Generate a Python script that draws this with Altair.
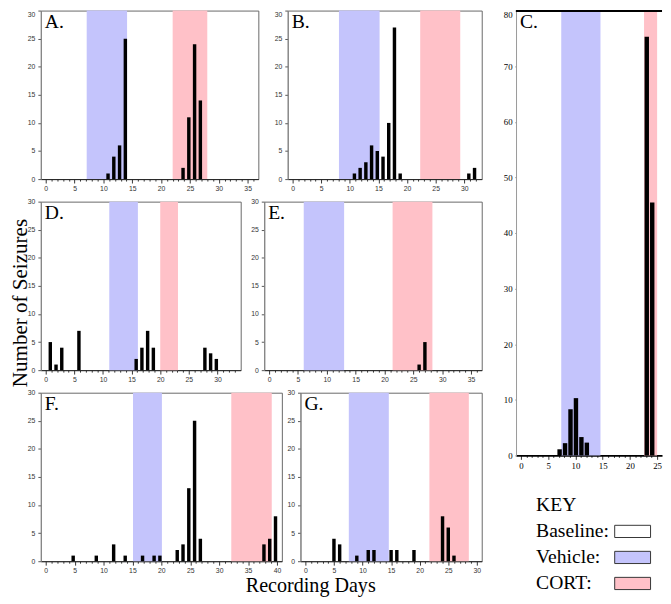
import altair as alt
import pandas as pd

SERIF = "Liberation Serif"
SANS = "Liberation Sans"
VEH_COLOR = "#c4c4fc"
CORT_COLOR = "#ffc1c8"

# ---- data ----
A_days = [11, 12, 13, 14, 24, 25, 26, 27]
A_counts = [1, 4, 6, 25, 2, 11, 24, 14]
A_vehicle = [7.1, 14.1]
A_cort = [22.0, 28.0]

B_days = [11, 12, 13, 14, 15, 16, 17, 18, 19, 31, 32]
B_counts = [1, 2, 3, 6, 5, 4, 10, 27, 1, 1, 2]
B_vehicle = [8.1, 15.2]
B_cort = [22.3, 29.3]

C_days = [7, 8, 9, 10, 11, 12, 23, 24]
C_counts = [1.1, 2.2, 8.3, 10.3, 3.3, 2.3, 75.3, 45.5]
C_vehicle = [7.4, 14.6]
C_cort = [22.6, 25.0]

D_days = [1, 2, 3, 6, 16, 17, 18, 19, 28, 29, 30]
D_counts = [5, 1, 4, 7, 2, 4, 7, 4, 4, 3, 2]
D_vehicle = [11.1, 16.1]
D_cort = [20.0, 23.1]

E_days = [26, 27]
E_counts = [1, 5]
E_vehicle = [6.0, 13.0]
E_cort = [21.4, 28.3]

F_days = [5, 9, 12, 14, 17, 19, 20, 23, 24, 25, 26, 27, 38, 39, 40]
F_counts = [1, 1, 3, 1, 1, 1, 1, 2, 3, 13, 25, 4, 3, 4, 8]
F_vehicle = [15.1, 20.1]
F_cort = [32.1, 39.1]

G_days = [5, 6, 9, 11, 12, 15, 16, 19, 24, 25, 26]
G_counts = [4, 3, 1, 2, 2, 2, 2, 2, 8, 6, 1]
G_vehicle = [7.6, 14.6]
G_cort = [21.7, 28.6]

KEY_LABELS = ["KEY", "Baseline:", "Vehicle:", "CORT:"]
KEY_FILLS = ["#ffffff", VEH_COLOR, CORT_COLOR]

Y_TITLE = "Number of Seizures"
X_TITLE = "Recording Days"


def panel(letter, days, counts, vehicle, cort, xmax, height=172,
          ymax=30, ystep=5, shift=0.0, barsize=3.5, serif_axes=False,
          xtitle=None, top_label_offset=0):
    bars_df = pd.DataFrame({"day": days, "count": counts})
    bands_df = pd.DataFrame({
        "phase": ["Vehicle", "CORT"],
        "start": [vehicle[0], cort[0]],
        "end": [vehicle[1], cort[1]],
    })
    xscale = alt.Scale(domain=[0, xmax], nice=False, zero=False)
    yscale = alt.Scale(domain=[0, ymax], nice=False)

    lab_font = SERIF if serif_axes else SANS
    lab_size = 9 if serif_axes else 7
    lab_color = "#000" if serif_axes else "#333"

    xaxis_kw = dict(
        values=list(range(0, int(xmax) + 1)),
        labelExpr="datum.value % 5 === 0 ? datum.label : ''",
        tickSize={"condition": {"test": "datum.value % 5 === 0", "value": 4}, "value": 2},
        grid=False, labelFont=lab_font, labelFontSize=lab_size, labelColor=lab_color,
        tickColor="#333", labelPadding=2, labelOverlap=False, labelFlush=False,
        domainColor="#000" if serif_axes else "#222",
        domainWidth=2 if serif_axes else 1,
        title=xtitle,
    )
    if xtitle:
        xaxis_kw.update(titleFont=SERIF, titleFontSize=20.5, titleFontWeight="normal",
                        titleColor="#000", titleX=10, titleY=31, titleAlign="center",
                        titleBaseline="alphabetic")
    xaxis = alt.Axis(**xaxis_kw)

    yaxis_kw = dict(
        values=list(range(0, ymax + 1, ystep)),
        tickSize=1 if serif_axes else 3,
        grid=False, labelFont=lab_font, labelFontSize=lab_size, labelColor=lab_color,
        domainColor="#999" if serif_axes else "#888", tickColor="#555",
        labelPadding=3, title=None,
    )
    if top_label_offset:
        yaxis_kw["labelOffset"] = {"condition": {"test": f"datum.value === {ymax}",
                                                 "value": top_label_offset}, "value": 0}
    yaxis = alt.Axis(**yaxis_kw)

    bands = alt.Chart(bands_df).mark_rect().encode(
        x=alt.X("start:Q", scale=xscale, axis=xaxis),
        x2="end:Q",
        y=alt.value(0),
        y2=alt.value(height),
        color=alt.Color("phase:N", scale=alt.Scale(domain=["Vehicle", "CORT"],
                                                     range=[VEH_COLOR, CORT_COLOR]), legend=None),
    )
    bars = alt.Chart(bars_df).transform_calculate(
        xpos=f"datum.day + ({shift})"
    ).mark_bar(size=barsize, color="#000").encode(
        x=alt.X("xpos:Q", scale=xscale, axis=xaxis),
        y=alt.Y("count:Q", scale=yscale, axis=yaxis),
    )
    label = alt.Chart(pd.DataFrame({"t": [letter]})).mark_text(
        font=SERIF, fontSize=20, align="left", baseline="alphabetic", color="#000"
    ).encode(x=alt.value(4), y=alt.value(17.5), text="t:N")
    return [bands, bars, label]


def make(layers, width, height=172, view=None):
    ch = alt.layer(*layers).properties(width=width, height=height)
    if view is not None:
        ch = ch.properties(view=view)
    return ch


A = make(panel("A.", A_days, A_counts, A_vehicle, A_cort, 36, shift=-0.2, top_label_offset=4), 222)
B = make(panel("B.", B_days, B_counts, B_vehicle, B_cort, 32.2, shift=-0.2, top_label_offset=4), 198)
D = make(panel("D.", D_days, D_counts, D_vehicle, D_cort, 33.2, shift=-0.2), 204)
E = make(panel("E.", E_days, E_counts, E_vehicle, E_cort, 36), 222)
F = make(panel("F.", F_days, F_counts, F_vehicle, F_cort, 40, shift=-0.25), 246)
G = make(panel("G.", G_days, G_counts, G_vehicle, G_cort, 30, xtitle=X_TITLE), 185)

C_layers = panel("C.", C_days, C_counts, C_vehicle, C_cort, 25, height=454,
                 ymax=80, ystep=10, shift=0.1, barsize=4.5, serif_axes=True,
                 top_label_offset=4.5)
C_top = alt.Chart(pd.DataFrame({"k": [0]})).mark_rule(color="#000", strokeWidth=2).encode(
    y=alt.value(0.5), x=alt.value(0), x2=alt.value(149))
C = make(C_layers + [C_top], 149, height=454, view=alt.ViewBackground(strokeOpacity=0))

key_y = alt.Scale(type="point", domain=KEY_LABELS, range=[13, 92.7], padding=0)
key_text = alt.Chart(pd.DataFrame({"label": KEY_LABELS})).mark_text(
    align="left", baseline="middle", font=SERIF, fontSize=20, color="#000"
).encode(x=alt.value(20.5), y=alt.Y("label:N", scale=key_y, axis=None), text="label:N")
key_swatch = alt.Chart(pd.DataFrame({"label": KEY_LABELS[1:]})).mark_point(
    shape="M-1,-0.34H1V0.34H-1Z", filled=True, size=1340, stroke="#333",
    strokeWidth=1, opacity=1
).encode(
    x=alt.value(119),
    y=alt.Y("label:N", scale=key_y, axis=None),
    fill=alt.Fill("label:N", scale=alt.Scale(domain=KEY_LABELS[1:], range=KEY_FILLS), legend=None),
)
KEY = alt.layer(key_text, key_swatch).properties(
    width=149, height=106, view=alt.ViewBackground(strokeOpacity=0))

row1 = alt.hconcat(A, B, spacing=30, bounds="flush")
row2 = alt.hconcat(D, E, spacing=24, bounds="flush")
row3 = alt.hconcat(F, G, spacing=19, bounds="flush")
left = alt.vconcat(row1, row2, row3, spacing=4)
right = alt.vconcat(C, KEY, spacing=23)

chart = alt.hconcat(left, right, spacing=21).properties(
    title=alt.Title(Y_TITLE, orient="left", anchor="middle", font=SERIF, fontSize=21.5,
                    fontWeight="normal", color="#000", offset=-4.8),
    padding={"left": 2.5, "top": -4.5, "right": 0, "bottom": 0},
    background="#ffffff",
).configure_view(stroke="#666", strokeWidth=1)

chart.save("out.html", embed_options={"renderer": "svg", "actions": False})
